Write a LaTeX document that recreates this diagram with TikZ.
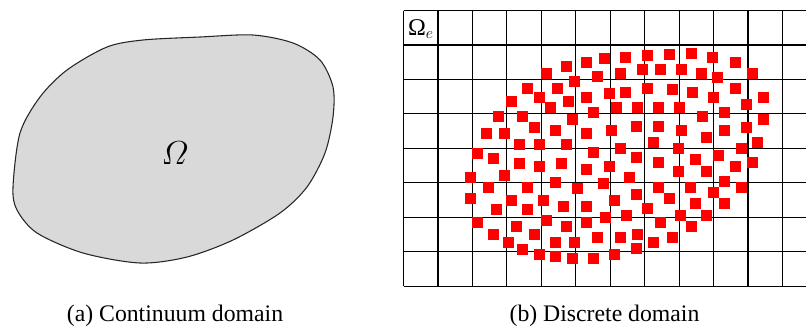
\documentclass[tikz,border=0pt]{standalone}
\usepackage{amsmath}
\usepackage{fontspec}
\setmainfont{Liberation Serif}
\begin{document}
\begin{tikzpicture}[x=0.75pt,y=-0.75pt]
  \tikzstyle{cell}=[line width=0.9pt, black]
  \tikzstyle{blob}=[draw=black!85, line width=0.8pt, fill=black!15]
  \tikzstyle{particle}=[fill=red]
  \tikzstyle{caption}=[font=\fontsize{17.8}{20}\selectfont]
  \useasboundingbox (0,0) rectangle (806,329);

  % continuum domain
  \draw[blob] plot[smooth cycle] coordinates {(13,187) (20,133) (40,97) (67,70) (107,47)
    (143,40) (200,37) (253,35) (293,43) (320,60) (333,87) (333,117) (325,153) (307,187)
    (280,213) (233,240) (187,257) (140,263) (83,253) (37,233) (17,210)};
  \node[font=\fontsize{24}{26}\selectfont] (omega) at (175,153) {$\varOmega$};

  % discrete domain
  \foreach \i in {0,...,11}
    \draw[cell] ({403.5+34.45*\i},10.5) -- ({403.5+34.45*\i},286);
  \foreach \j in {0,...,8}
    \draw[cell] (403.5,{10.5+34.45*\j}) -- (806,{10.5+34.45*\j});
  \foreach \px/\py in {546/73,566/66,586/62,604/58,625/57,574/81,597/76,620/73,
      527/88,557/88,539/97,511/101,568/101,586/97,609/93,625/92,550/107,593/112,616/107,
      498/116,522/116,572/119,534/127,486/133,504/133,555/130,586/133,611/130,
      519/144,539/144,566/144,593/152,620/148,477/153,493/158,
      647/55,669/54,691/53,712/57,735/62,642/69,660/69,681/69,701/73,717/77,752/73,
      647/88,672/89,692/92,713/97,735/88,763/97,637/107,658/107,679/107,746/104,
      724/112,702/116,763/119,636/126,658/126,681/130,706/137,724/130,746/127,
      653/142,678/148,741/148,757/142,636/157,658/162,695/159,718/155,752/162,
      519/163,539/166,561/163,586/169,609/166,470/177,504/175,488/187,527/187,
      555/182,577/188,603/183,629/177,470/198,511/200,543/200,496/209,527/209,
      563/206,586/206,614/200,477/222,516/226,546/220,566/226,586/222,605/217,
      626/215,493/234,534/234,508/242,555/242,574/242,597/237,620/237,
      522/249,539/254,555/256,572/258,593/258,614/254,
      678/171,706/171,735/166,658/187,690/187,713/192,724/181,741/187,
      636/194,669/198,695/203,724/203,647/208,680/215,706/215,660/222,691/226,
      637/234,672/237,653/242,636/248}
    \fill[particle] (\px-5.5,\py-5.5) rectangle (\px+5.5,\py+5.5);
  \node[font=\fontsize{18}{20}\selectfont] (omegae) at (421,29) {Ω$_{e}$};

  % captions
  \node[caption] (capa) at (175,316) {(a) Continuum domain};
  \node[caption] (capb) at (604.5,316) {(b) Discrete domain};
\end{tikzpicture}
\end{document}
